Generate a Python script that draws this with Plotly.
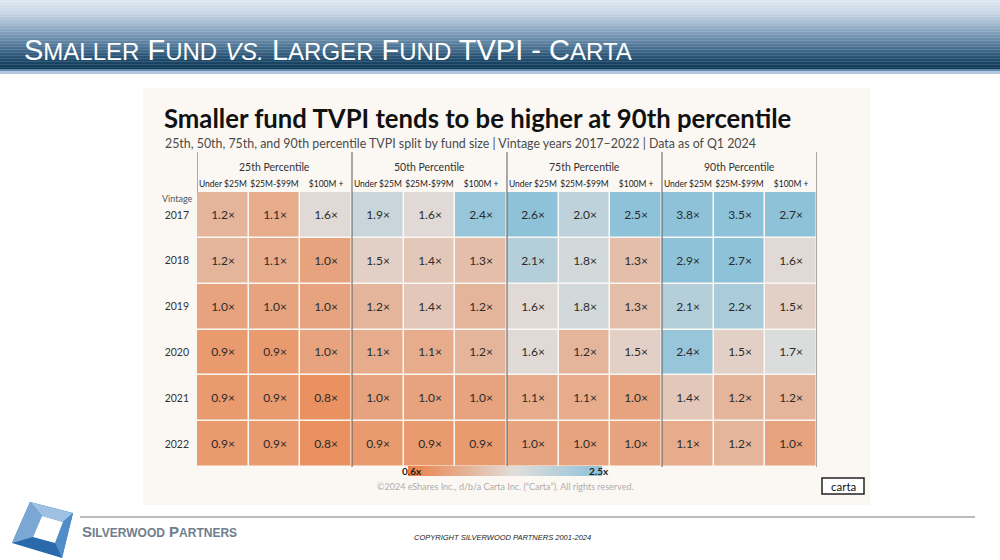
import plotly.graph_objects as go

# ---------------- data ----------------
vintages = ["2017", "2018", "2019", "2020", "2021", "2022"]
percentiles = ["25th Percentile", "50th Percentile", "75th Percentile", "90th Percentile"]
fund_sizes = ["Under $25M", "$25M-$99M", "$100M +"]

tvpi_2017 = [1.2, 1.1, 1.6, 1.9, 1.6, 2.4, 2.6, 2.0, 2.5, 3.8, 3.5, 2.7]
tvpi_2018 = [1.2, 1.1, 1.0, 1.5, 1.4, 1.3, 2.1, 1.8, 1.3, 2.9, 2.7, 1.6]
tvpi_2019 = [1.0, 1.0, 1.0, 1.2, 1.4, 1.2, 1.6, 1.8, 1.3, 2.1, 2.2, 1.5]
tvpi_2020 = [0.9, 0.9, 1.0, 1.1, 1.1, 1.2, 1.6, 1.2, 1.5, 2.4, 1.5, 1.7]
tvpi_2021 = [0.9, 0.9, 0.8, 1.0, 1.0, 1.0, 1.1, 1.1, 1.0, 1.4, 1.2, 1.2]
tvpi_2022 = [0.9, 0.9, 0.8, 0.9, 0.9, 0.9, 1.0, 1.0, 1.0, 1.1, 1.2, 1.0]

scale_min = 0.6
scale_max = 2.5

# ---------------- helpers ----------------
W, H = 1000, 560


def px(x):
    return x / W


def py(y):
    return 1 - y / H


z = [tvpi_2017, tvpi_2018, tvpi_2019, tvpi_2020, tvpi_2021, tvpi_2022]
ncol = len(percentiles) * len(fund_sizes)
xcols = list(range(ncol))
col_labels = [s for _ in percentiles for s in fund_sizes]

mid = 1.65
mid_frac = (mid - scale_min) / (scale_max - scale_min)
colorscale = [[0, "#ec7f44"], [mid_frac, "#e0dedc"], [1, "#8dc2d9"]]

FONT = "Lato"

fig = go.Figure()
fig.add_trace(go.Heatmap(
    z=z, x=xcols, y=vintages,
    zmin=scale_min, zmax=scale_max,
    colorscale=colorscale,
    xgap=1.5, ygap=1.5,
    texttemplate="%{z:.1f}×",
    textfont=dict(family=FONT, size=12, color="#2b2b2b"),
    hoverinfo="skip",
    colorbar=dict(
        orientation="h", x=px(505), xanchor="center", y=py(471), yanchor="middle",
        len=214 / W, lenmode="fraction", thickness=10, outlinewidth=0,
        showticklabels=False, ticks="",
    ),
))

shapes = []

# header gradient
stops = [(0, (224, 233, 242)), (14, (196, 212, 228)), (28, (146, 172, 197)),
         (44, (88, 125, 157)), (57, (40, 83, 116)), (69, (11, 52, 82))]


def grad_color(y):
    for (y0, c0), (y1, c1) in zip(stops[:-1], stops[1:]):
        if y0 <= y <= y1:
            t = (y - y0) / (y1 - y0)
            return "rgb(%d,%d,%d)" % tuple(round(a + (b - a) * t) for a, b in zip(c0, c1))
    return "rgb(%d,%d,%d)" % stops[-1][1]


step = 1.5
yy = 0.0
while yy < 69:
    shapes.append(dict(type="rect", xref="paper", yref="paper", x0=0, x1=1,
                       y0=py(min(yy + step, 69) + 0.3), y1=py(yy), line=dict(width=0),
                       fillcolor=grad_color(yy + step / 2), layer="below"))
    yy += step
shapes.append(dict(type="rect", xref="paper", yref="paper", x0=0, x1=1, y0=py(71), y1=py(69),
                   line=dict(width=0), fillcolor="#6389b0", layer="below"))
shapes.append(dict(type="rect", xref="paper", yref="paper", x0=0, x1=1, y0=py(74), y1=py(71),
                   line=dict(width=0), fillcolor="#b3c8de", layer="below"))

# beige chart panel
shapes.append(dict(type="rect", xref="paper", yref="paper", x0=px(143), x1=px(870),
                   y0=py(505), y1=py(88), line=dict(width=0), fillcolor="#fbf8f4", layer="below"))

# group separator lines
shapes.append(dict(type="line", xref="x", yref="paper", x0=-0.5, x1=-0.5, y0=py(192), y1=py(152),
                   line=dict(color="#5a5a5a", width=1)))
for g in range(1, len(percentiles) + 1):
    xv = g * len(fund_sizes) - 0.5
    shapes.append(dict(type="line", xref="x", yref="paper", x0=xv, x1=xv, y0=py(467), y1=py(152),
                       line=dict(color="#5a5a5a", width=1)))

# carta box
shapes.append(dict(type="rect", xref="paper", yref="paper", x0=px(822), x1=px(864),
                   y0=py(494), y1=py(478), line=dict(color="#222", width=1.5), fillcolor="#ffffff"))

# footer line
shapes.append(dict(type="line", xref="paper", yref="paper", x0=px(80), x1=px(975),
                   y0=py(517), y1=py(517), line=dict(color="#a4a4a4", width=1.5)))


# logo
def poly(pts):
    return "M " + " L ".join("%.4f,%.4f" % (px(x), py(y)) for x, y in pts) + " Z"


TL, TR, BR, BL = (30, 502), (73, 513), (62, 558), (12, 543)
iTL, iTR, iBR, iBL = (42, 516), (63, 522), (55, 543), (33, 537)
shapes.append(dict(type="path", xref="paper", yref="paper", path=poly([TL, TR, BR, BL]),
                   fillcolor="#2a6aab", line=dict(width=0)))
shapes.append(dict(type="path", xref="paper", yref="paper", path=poly([TL, TR, iTR, iTL]),
                   fillcolor="#9ec0e2", line=dict(width=0)))
shapes.append(dict(type="path", xref="paper", yref="paper", path=poly([TL, iTL, iBL, BL]),
                   fillcolor="#7aa7d4", line=dict(width=0)))
shapes.append(dict(type="path", xref="paper", yref="paper", path=poly([TR, BR, iBR, iTR]),
                   fillcolor="#4f8cc8", line=dict(width=0)))
shapes.append(dict(type="path", xref="paper", yref="paper", path=poly([iTL, iTR, iBR, iBL]),
                   fillcolor="#ffffff", line=dict(width=0)))

annotations = []

SM = 24
title_html = ("S<span style='font-size:%dpx'>MALLER</span> F<span style='font-size:%dpx'>UND</span> "
              "<i><span style='font-size:%dpx'>VS.</span></i> "
              "L<span style='font-size:%dpx'>ARGER</span> F<span style='font-size:%dpx'>UND</span> "
              "TVPI - C<span style='font-size:%dpx'>ARTA</span>") % ((SM,) * 6)
annotations.append(dict(xref="paper", yref="paper", x=px(22), y=py(50), xanchor="left", yanchor="middle",
                        text=title_html, showarrow=False,
                        font=dict(family="Liberation Sans, Arial", size=29, color="#ffffff")))

annotations.append(dict(xref="paper", yref="paper", x=px(162), y=py(118), xanchor="left", yanchor="middle",
                        text="<b>Smaller fund TVPI tends to be higher at 90th percentile</b>", showarrow=False,
                        font=dict(family=FONT, size=25.7, color="#111111")))
annotations.append(dict(xref="paper", yref="paper", x=px(163), y=py(143), xanchor="left", yanchor="middle",
                        text="25th, 50th, 75th, and 90th percentile TVPI split by fund size | "
                             "Vintage years 2017–2022 | Data as of Q1 2024",
                        showarrow=False, font=dict(family=FONT, size=12.4, color="#4a4a4a")))

for i, p in enumerate(percentiles):
    annotations.append(dict(xref="x", yref="paper", x=i * len(fund_sizes) + 1, y=py(167),
                            xanchor="center", yanchor="middle", text=p, showarrow=False,
                            font=dict(family=FONT, size=10.5, color="#333333")))

annotations.append(dict(xref="paper", yref="paper", x=px(177), y=py(198), xanchor="center", yanchor="middle",
                        text="Vintage", showarrow=False, font=dict(family=FONT, size=9, color="#555555")))

annotations.append(dict(xref="paper", yref="paper", x=px(400), y=py(471), xanchor="left", yanchor="middle",
                        text="<b>%.1fx</b>" % scale_min, showarrow=False,
                        font=dict(family=FONT, size=10, color="#222222")))
annotations.append(dict(xref="paper", yref="paper", x=px(611), y=py(471), xanchor="right", yanchor="middle",
                        text="<b>%.1fx</b>" % scale_max, showarrow=False,
                        font=dict(family=FONT, size=10, color="#222222")))
annotations.append(dict(xref="paper", yref="paper", x=px(505), y=py(486), xanchor="center", yanchor="middle",
                        text="©2024 eShares Inc., d/b/a Carta Inc. (“Carta”). All rights reserved.",
                        showarrow=False, font=dict(family=FONT, size=9, color="#b0aca8")))
annotations.append(dict(xref="paper", yref="paper", x=px(843), y=py(486), xanchor="center", yanchor="middle",
                        text="carta", showarrow=False, font=dict(family=FONT, size=11.5, color="#111111")))

annotations.append(dict(xref="paper", yref="paper", x=px(80), y=py(531), xanchor="left", yanchor="middle",
                        text="<b>S<span style='font-size:12px'>ILVERWOOD</span> P<span style='font-size:12px'>ARTNERS</span></b>",
                        showarrow=False, font=dict(family="Liberation Sans, Arial", size=15, color="#6e7e8e")))
annotations.append(dict(xref="paper", yref="paper", x=px(502), y=py(537), xanchor="center", yanchor="middle",
                        text="<i>COPYRIGHT SILVERWOOD PARTNERS 2001-2024</i>",
                        showarrow=False, font=dict(family="Liberation Sans Narrow, Liberation Sans, Arial",
                                                   size=7.5, color="#222222")))

fig.update_layout(
    width=W, height=H,
    margin=dict(l=0, r=0, t=0, b=0),
    paper_bgcolor="#ffffff",
    plot_bgcolor="#f9f5f0",
    showlegend=False,
    shapes=shapes,
    annotations=annotations,
    xaxis=dict(domain=[px(197), px(817)], side="top", tickmode="array", tickvals=xcols,
               ticktext=col_labels, range=[-0.5, ncol - 0.5], showgrid=False, zeroline=False,
               ticks="", ticklabelstandoff=2, tickfont=dict(family=FONT, size=8.5, color="#222222"),
               fixedrange=True),
    yaxis=dict(domain=[py(467), py(192)], autorange="reversed", type="category", showgrid=False,
               zeroline=False, ticks="", ticklabelstandoff=7,
               tickfont=dict(family=FONT, size=10.5, color="#333333"), fixedrange=True),
)

fig.write_html("out.html", config={"displayModeBar": False},
               post_script="document.body.style.margin='0';document.body.style.padding='0';")
